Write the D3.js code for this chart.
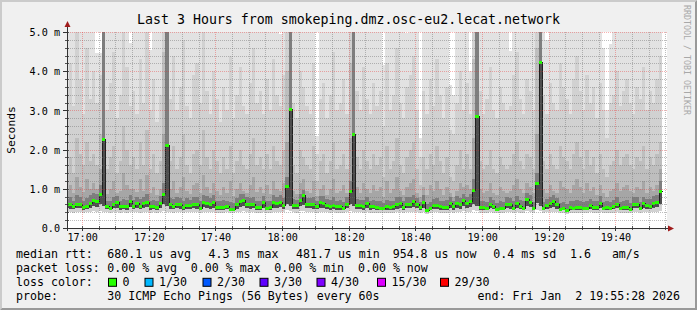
<!DOCTYPE html>
<html>
<head>
<meta charset="utf-8">
<script src="https://cdn.jsdelivr.net/npm/d3@7"></script>
<style>
  html, body { margin: 0; padding: 0; background: #fff; }
  svg text { font-family: "DejaVu Sans Mono", monospace; white-space: pre; }
</style>
</head>
<body>
<div id="chart"></div>
<script>
// median rtt per minute (ms)
var medianRtt = [
  0.60, 0.60, 0.56, 0.62, 0.62, 0.54, 0.57, 0.65, 0.71, 0.69,
  0.87, 2.26, 0.56, 0.52, 0.62, 0.66, 0.55, 0.55, 0.55, 0.68,
  0.57, 0.65, 0.57, 0.63, 0.66, 0.55, 0.55, 0.54, 0.65, 0.88,
  2.13, 0.60, 0.57, 0.61, 0.60, 0.54, 0.58, 0.58, 0.62, 0.60,
  0.52, 0.67, 0.65, 0.60, 0.66, 0.54, 0.54, 0.54, 0.56, 0.49,
  0.49, 0.60, 0.68, 0.71, 0.62, 0.60, 0.60, 0.53, 0.53, 0.66,
  0.51, 0.54, 0.66, 0.63, 0.67, 0.59, 1.08, 3.04, 0.59, 0.59,
  0.71, 0.83, 0.61, 0.61, 0.60, 0.56, 0.66, 0.64, 0.59, 0.56,
  0.59, 0.55, 0.55, 0.51, 0.61, 0.94, 2.39, 0.58, 0.58, 0.55,
  0.64, 0.55, 0.55, 0.54, 0.51, 0.50, 0.55, 0.53, 0.55, 0.60,
  0.63, 0.54, 0.62, 0.62, 0.68, 0.61, 0.54, 0.66, 0.47, 0.50,
  0.59, 0.59, 0.55, 0.53, 0.54, 0.64, 0.55, 0.65, 0.60, 0.71,
  0.64, 0.69, 0.98, 2.85, 0.54, 0.53, 0.50, 0.62, 0.57, 0.49,
  0.51, 0.51, 0.61, 0.61, 0.51, 0.65, 0.56, 0.52, 0.73, 0.67,
  0.50, 1.16, 4.24, 0.51, 0.58, 0.63, 0.68, 0.60, 0.49, 0.50,
  0.47, 0.54, 0.52, 0.54, 0.54, 0.50, 0.51, 0.58, 0.54, 0.54,
  0.65, 0.51, 0.54, 0.51, 0.56, 0.61, 0.51, 0.54, 0.54, 0.49,
  0.61, 0.62, 0.51, 0.63, 0.58, 0.57, 0.64, 0.67, 0.95
];

// lowest ping of each minute (ms)
var minPing = [
  0.41, 0.40, 0.39, 0.42, 0.41, 0.38, 0.40, 0.42, 0.43, 0.42,
  0.44, 0.42, 0.40, 0.38, 0.41, 0.42, 0.39, 0.40, 0.39, 0.42,
  0.40, 0.41, 0.39, 0.41, 0.42, 0.39, 0.40, 0.39, 0.41, 0.44,
  0.42, 0.40, 0.39, 0.41, 0.40, 0.38, 0.40, 0.40, 0.41, 0.40,
  0.38, 0.42, 0.41, 0.40, 0.41, 0.39, 0.39, 0.38, 0.40, 0.37,
  0.37, 0.40, 0.42, 0.43, 0.41, 0.40, 0.41, 0.38, 0.39, 0.41,
  0.38, 0.39, 0.41, 0.41, 0.42, 0.40, 0.45, 0.43, 0.40, 0.39,
  0.43, 0.44, 0.41, 0.40, 0.40, 0.39, 0.41, 0.41, 0.40, 0.39,
  0.40, 0.39, 0.39, 0.38, 0.41, 0.44, 0.42, 0.40, 0.40, 0.39,
  0.41, 0.39, 0.39, 0.39, 0.38, 0.37, 0.39, 0.38, 0.39, 0.40,
  0.41, 0.39, 0.41, 0.41, 0.42, 0.41, 0.39, 0.42, 0.36, 0.37,
  0.40, 0.40, 0.39, 0.38, 0.39, 0.41, 0.39, 0.41, 0.40, 0.43,
  0.41, 0.42, 0.45, 0.43, 0.39, 0.38, 0.37, 0.41, 0.39, 0.37,
  0.38, 0.38, 0.41, 0.40, 0.38, 0.41, 0.39, 0.38, 0.43, 0.42,
  0.37, 0.46, 0.43, 0.38, 0.40, 0.41, 0.42, 0.40, 0.37, 0.37,
  0.36, 0.39, 0.38, 0.39, 0.39, 0.37, 0.38, 0.40, 0.39, 0.39,
  0.41, 0.38, 0.39, 0.38, 0.39, 0.41, 0.38, 0.39, 0.39, 0.37,
  0.40, 0.41, 0.38, 0.41, 0.40, 0.40, 0.41, 0.42, 0.44
];

// lower edge of the dense part of the smoke (ms)
var lowPing = [
  0.50, 0.49, 0.48, 0.51, 0.50, 0.47, 0.48, 0.52, 0.55, 0.54,
  0.60, 0.55, 0.48, 0.46, 0.50, 0.52, 0.47, 0.48, 0.47, 0.53,
  0.48, 0.52, 0.48, 0.51, 0.53, 0.47, 0.48, 0.47, 0.52, 0.62,
  0.55, 0.49, 0.48, 0.50, 0.49, 0.47, 0.48, 0.49, 0.50, 0.49,
  0.46, 0.53, 0.52, 0.49, 0.52, 0.47, 0.47, 0.46, 0.48, 0.45,
  0.45, 0.49, 0.53, 0.55, 0.50, 0.49, 0.50, 0.46, 0.47, 0.52,
  0.46, 0.47, 0.52, 0.51, 0.53, 0.49, 0.62, 0.56, 0.49, 0.48,
  0.55, 0.58, 0.50, 0.50, 0.49, 0.48, 0.52, 0.51, 0.49, 0.47,
  0.49, 0.47, 0.47, 0.46, 0.50, 0.60, 0.55, 0.48, 0.49, 0.47,
  0.51, 0.47, 0.48, 0.47, 0.46, 0.45, 0.47, 0.46, 0.47, 0.49,
  0.51, 0.47, 0.50, 0.50, 0.53, 0.50, 0.47, 0.52, 0.44, 0.45,
  0.49, 0.48, 0.47, 0.46, 0.47, 0.51, 0.47, 0.52, 0.49, 0.55,
  0.51, 0.54, 0.62, 0.55, 0.47, 0.46, 0.45, 0.50, 0.48, 0.45,
  0.46, 0.46, 0.50, 0.49, 0.46, 0.52, 0.48, 0.46, 0.56, 0.53,
  0.45, 0.64, 0.56, 0.46, 0.48, 0.51, 0.53, 0.49, 0.45, 0.45,
  0.44, 0.47, 0.46, 0.47, 0.47, 0.45, 0.46, 0.48, 0.47, 0.47,
  0.52, 0.46, 0.47, 0.46, 0.48, 0.50, 0.46, 0.47, 0.47, 0.45,
  0.50, 0.50, 0.46, 0.51, 0.48, 0.48, 0.51, 0.53, 0.60
];

// highest ping of each minute (ms), graph is cut at 5 ms
var maxPing = [
  6.5, 7.0, 5.8, 6.2, 8.1, 5.6, 6.9, 7.4, 6.0, 4.46,
  4.46, 9.0, 6.3, 5.9, 7.1, 6.6, 5.7, 6.8, 7.5, 4.72,
  6.1, 5.8, 6.4, 7.0, 6.2, 4.53, 6.7, 5.9, 6.3, 8.0,
  9.0, 6.4, 7.2, 5.8, 6.1, 6.6, 7.3, 5.9, 6.2, 6.8,
  7.0, 6.3, 5.7, 6.5, 6.9, 6.0, 5.8, 7.1, 6.4, 6.2,
  5.9, 6.6, 7.0, 6.1, 5.8, 6.7, 6.3, 5.9, 7.2, 6.0,
  6.4, 5.7, 6.8, 6.2, 4.95, 6.5, 8.0, 9.0, 6.1, 5.9,
  6.6, 7.0, 6.2, 5.8, 6.4, 2.34, 6.9, 6.1, 5.7, 6.3,
  6.8, 6.0, 5.9, 6.5, 6.2, 8.0, 9.0, 6.4, 5.8, 6.7,
  6.1, 6.3, 7.0, 5.9, 6.2, 4.17, 6.6, 5.8, 6.4, 7.1,
  6.0, 5.7, 4.97, 6.5, 6.9, 6.2, 2.30, 6.1, 5.9, 6.6,
  6.3, 7.0, 6.0, 5.8, 6.4, 3.65, 3.40, 6.2, 6.7, 5.9,
  6.1, 4.0, 8.0, 9.0, 6.5, 5.9, 6.3, 6.8, 6.0, 5.7,
  6.6, 6.2, 5.9, 4.51, 6.4, 7.0, 6.1, 5.8, 6.5, 6.3,
  5.9, 8.0, 9.0, 6.2, 4.8, 6.6, 6.0, 5.8, 6.9, 6.3,
  6.1, 5.7, 6.4, 7.0, 6.2, 5.9, 6.6, 6.0, 6.3, 5.8,
  6.5, 4.6, 3.0, 4.7, 6.1, 6.8, 5.9, 6.2, 6.6, 6.0,
  5.8, 6.4, 6.1, 6.9, 5.7, 6.3, 6.0, 6.5, 7.0
];

// upper smoke levels, from outer to inner (ms)
var upperPing2 = [
  3.6, 4.2, 3.1, 5.4, 3.8, 2.9, 4.6, 3.3, 4.0, 3.2,
  3.9, 9.0, 3.0, 3.7, 4.5, 2.8, 3.4, 5.3, 4.1, 3.1,
  3.5, 2.9, 4.3, 3.2, 5.2, 3.0, 3.8, 2.7, 3.4, 6.0,
  9.0, 3.3, 4.4, 3.0, 3.6, 4.8, 3.1, 2.8, 3.9, 4.2,
  3.2, 5.1, 3.5, 2.9, 4.0, 3.3, 2.7, 3.6, 3.0, 4.4,
  2.8, 3.4, 4.1, 3.1, 2.9, 3.7, 4.6, 3.2, 3.5, 2.9,
  3.8, 3.0, 4.3, 3.4, 3.1, 3.9, 5.5, 9.0, 3.2, 2.8,
  4.0, 3.6, 3.1, 2.9, 4.2, 1.9, 3.3, 3.7, 2.8, 3.4,
  4.5, 3.0, 3.2, 3.8, 2.9, 5.5, 9.0, 3.5, 3.0, 4.1,
  3.3, 2.9, 3.7, 3.1, 3.5, 2.6, 4.2, 3.0, 3.4, 4.6,
  3.2, 2.8, 3.6, 3.9, 4.4, 3.0, 1.8, 3.5, 2.9, 3.8,
  3.1, 4.3, 3.4, 2.8, 3.6, 2.5, 2.4, 3.2, 4.0, 3.0,
  3.7, 2.9, 5.5, 9.0, 3.5, 2.9, 3.3, 4.1, 3.0, 2.8,
  3.6, 3.2, 3.0, 3.1, 3.9, 4.5, 3.3, 2.9, 3.8, 3.5,
  3.0, 5.8, 9.0, 3.4, 2.9, 3.7, 3.2, 3.0, 4.2, 3.6,
  3.3, 2.9, 3.8, 4.4, 3.5, 3.0, 3.9, 3.2, 3.6, 2.8,
  3.7, 3.0, 2.3, 3.2, 3.4, 4.0, 3.1, 3.5, 3.8, 3.2,
  2.9, 3.6, 3.3, 4.1, 3.0, 3.5, 3.2, 3.8, 4.4
];

var upperPing3 = [
  1.5, 1.8, 1.4, 2.3, 1.9, 1.6, 2.2, 1.7, 1.9, 1.6,
  2.4, 9.0, 1.5, 1.8, 2.1, 1.4, 1.7, 2.6, 2.0, 1.6,
  1.8, 1.5, 2.2, 1.6, 2.5, 1.5, 1.9, 1.4, 1.7, 4.5,
  9.0, 1.7, 2.1, 1.5, 1.8, 2.4, 1.6, 1.4, 1.9, 2.0,
  1.6, 2.5, 1.8, 1.5, 2.0, 1.7, 1.4, 1.8, 1.5, 2.1,
  1.4, 1.7, 2.0, 1.6, 1.5, 1.9, 2.3, 1.6, 1.8, 1.5,
  1.9, 1.5, 2.1, 1.7, 1.6, 2.0, 4.0, 9.0, 1.6, 1.4,
  2.0, 1.8, 1.6, 1.5, 2.1, 1.2, 1.7, 1.9, 1.4, 1.7,
  2.2, 1.5, 1.6, 1.9, 1.5, 4.2, 9.0, 1.8, 1.5, 2.0,
  1.7, 1.5, 1.9, 1.6, 1.8, 1.3, 2.1, 1.5, 1.7, 2.3,
  1.6, 1.4, 1.8, 2.0, 2.2, 1.5, 1.1, 1.8, 1.5, 1.9,
  1.6, 2.1, 1.7, 1.4, 1.8, 1.3, 1.2, 1.6, 2.0, 1.5,
  1.9, 1.5, 4.3, 9.0, 1.7, 1.5, 1.6, 2.0, 1.5, 1.4,
  1.8, 1.6, 1.5, 1.6, 1.9, 2.2, 1.7, 1.5, 1.9, 1.8,
  1.5, 4.6, 9.0, 1.7, 1.5, 1.9, 1.6, 1.5, 2.1, 1.8,
  1.7, 1.5, 1.9, 2.2, 1.8, 1.5, 2.0, 1.6, 1.8, 1.4,
  1.9, 1.5, 1.3, 1.6, 1.7, 2.0, 1.6, 1.8, 1.9, 1.6,
  1.5, 1.8, 1.7, 2.1, 1.5, 1.8, 1.6, 1.9, 2.2
];

var upperPing4 = [
  0.95, 1.10, 0.90, 1.30, 1.05, 0.92, 1.25, 1.00, 1.15, 1.00,
  1.50, 9.00, 0.88, 1.00, 1.20, 0.90, 0.95, 1.40, 1.10, 1.00,
  1.00, 0.92, 1.25, 0.95, 1.35, 0.90, 1.05, 0.85, 1.00, 2.40,
  9.00, 1.00, 1.20, 0.90, 1.05, 1.30, 0.95, 0.88, 1.10, 1.15,
  0.90, 1.35, 1.05, 0.90, 1.15, 0.95, 0.85, 1.05, 0.90, 1.20,
  0.82, 1.00, 1.15, 0.95, 0.90, 1.10, 1.30, 0.92, 1.05, 0.90,
  1.10, 0.88, 1.20, 1.00, 0.95, 1.15, 2.20, 9.00, 0.95, 0.88,
  1.15, 1.25, 0.95, 0.90, 1.20, 0.82, 1.00, 1.10, 0.85, 1.00,
  1.25, 0.90, 0.95, 1.10, 0.90, 2.30, 9.00, 1.05, 0.90, 1.15,
  1.00, 0.90, 1.10, 0.95, 1.05, 0.80, 1.20, 0.90, 1.00, 1.30,
  0.95, 0.85, 1.05, 1.15, 1.25, 0.90, 0.78, 1.05, 0.85, 1.10,
  0.95, 1.20, 1.00, 0.85, 1.05, 0.90, 0.80, 0.95, 1.15, 1.05,
  1.10, 1.00, 2.30, 9.00, 1.00, 0.90, 0.95, 1.15, 0.90, 0.85,
  1.05, 0.95, 0.90, 0.95, 1.10, 1.25, 1.00, 0.90, 1.15, 1.05,
  0.90, 2.40, 9.00, 1.00, 0.90, 1.10, 0.95, 0.90, 1.20, 1.05,
  1.00, 0.90, 1.10, 1.25, 1.05, 0.90, 1.15, 0.95, 1.05, 0.85,
  1.10, 0.90, 0.80, 0.95, 1.00, 1.15, 0.95, 1.05, 1.10, 0.95,
  0.90, 1.05, 1.00, 1.20, 0.90, 1.05, 0.95, 1.10, 1.50
];

var upperPing5 = [
  0.75, 0.78, 0.70, 0.85, 0.80, 0.68, 0.76, 0.84, 0.90, 0.86,
  1.10, 9.00, 0.70, 0.68, 0.80, 0.82, 0.70, 0.74, 0.72, 0.85,
  0.72, 0.80, 0.75, 0.79, 0.86, 0.70, 0.72, 0.68, 0.82, 1.15,
  9.00, 0.76, 0.75, 0.78, 0.77, 0.70, 0.76, 0.72, 0.80, 0.78,
  0.68, 0.85, 0.82, 0.76, 0.84, 0.70, 0.68, 0.72, 0.70, 0.66,
  0.64, 0.76, 0.86, 0.88, 0.80, 0.76, 0.80, 0.68, 0.70, 0.82,
  0.68, 0.70, 0.85, 0.79, 0.84, 0.76, 1.30, 9.00, 0.75, 0.72,
  0.88, 0.98, 0.77, 0.76, 0.80, 0.68, 0.82, 0.81, 0.74, 0.72,
  0.78, 0.70, 0.72, 0.66, 0.78, 1.20, 9.00, 0.74, 0.72, 0.72,
  0.80, 0.70, 0.72, 0.69, 0.68, 0.64, 0.72, 0.68, 0.70, 0.78,
  0.80, 0.68, 0.78, 0.80, 0.85, 0.76, 0.66, 0.83, 0.62, 0.66,
  0.75, 0.76, 0.70, 0.68, 0.72, 0.80, 0.68, 0.82, 0.77, 0.88,
  0.80, 0.86, 1.25, 9.00, 0.70, 0.68, 0.66, 0.78, 0.72, 0.64,
  0.68, 0.66, 0.78, 0.77, 0.68, 0.82, 0.72, 0.68, 0.90, 0.84,
  0.66, 1.40, 9.00, 0.67, 0.74, 0.80, 0.85, 0.76, 0.64, 0.66,
  0.62, 0.70, 0.68, 0.72, 0.70, 0.66, 0.68, 0.75, 0.70, 0.70,
  0.82, 0.67, 0.68, 0.66, 0.72, 0.78, 0.66, 0.70, 0.71, 0.64,
  0.78, 0.80, 0.66, 0.80, 0.74, 0.73, 0.81, 0.85, 1.20
];

var xTickLabels = ["17:00", "17:20", "17:40", "18:00", "18:20", "18:40", "19:00", "19:20", "19:40"];
var yTickLabels = ["0.0", "1.0 m", "2.0 m", "3.0 m", "4.0 m", "5.0 m"];

var medianStats = ["680.1 us avg", "4.3 ms max", "481.7 us min", "954.8 us now", "0.4 ms sd", "1.6   am/s"];
var lossStats   = ["0.00 % avg", "0.00 % max", "0.00 % min", "0.00 % now"];
var lossLabels  = ["0", "1/30", "2/30", "3/30", "4/30", "15/30", "29/30"];
var lossColors  = ["#26ff00", "#00b8ff", "#0059ff", "#5e00ff", "#7e00ff", "#dd00ff", "#ff0000"];

(function() {

  var buildColumns,
  drawFrame,
  drawSmoke,
  drawMedian,
  drawGrid,
  drawAxes,
  drawLegend,
  initModule,

  stateMap = {
    width    : 697,
    height   : 310,
    plot     : { left: 67, top: 32, width: 600, height: 196 },
    start    : new Date(2026, 0, 2, 16, 55, 28),
    end      : new Date(2026, 0, 2, 19, 55, 28),
    firstEnd : new Date(2026, 0, 2, 16, 56, 0),
    step     : 60000,
    columns  : null
  },

  d3Map = {
    svg   : null,
    plotG : null,
    x     : null,
    y     : null
  },

  // outer band first, lighter to darker (smokeping style)
  smokeBands = [
    { top: "max", bottom: "min",  color: "#e2e2e2" },
    { top: "u2",  bottom: "min",  color: "#d1d1d1" },
    { top: "u3",  bottom: "low",  color: "#bebebe" },
    { top: "u4",  bottom: "low",  color: "#a6a6a6" },
    { top: "u5",  bottom: "low",  color: "#7e7e7e" },
    { top: "med", bottom: "low",  color: "#4e4e4e" }
  ];

  buildColumns = function(){
    return medianRtt.map(function(m, i){
      var t1 = new Date(stateMap.firstEnd.getTime() + i * stateMap.step);
      return {
        t0  : new Date(t1.getTime() - stateMap.step),
        t1  : t1,
        med : m,
        min : minPing[i],
        low : lowPing[i],
        max : maxPing[i],
        u2  : upperPing2[i],
        u3  : upperPing3[i],
        u4  : upperPing4[i],
        u5  : upperPing5[i]
      };
    });
  };

  drawFrame = function(){
    var w = stateMap.width, h = stateMap.height, p = stateMap.plot;
    d3Map.svg.append("rect").attr("width", w).attr("height", h).attr("fill", "#f0f0f0");
    // 3d border
    d3Map.svg.append("path").attr("fill", "#cbcbcb")
      .attr("d", "M0,0H" + w + "L" + (w - 2) + ",2H2V" + (h - 2) + "L0," + h + "Z");
    d3Map.svg.append("path").attr("fill", "#999999")
      .attr("d", "M" + w + ",0V" + h + "H0L2," + (h - 2) + "H" + (w - 2) + "V2Z");
    d3Map.svg.append("rect")
      .attr("x", p.left).attr("y", p.top)
      .attr("width", p.width).attr("height", p.height)
      .attr("fill", "#ffffff");
    d3Map.svg.append("clipPath").attr("id", "plot-clip")
      .append("rect")
      .attr("x", p.left).attr("y", p.top)
      .attr("width", p.width).attr("height", p.height);
    d3Map.plotG = d3Map.svg.append("g").attr("clip-path", "url(#plot-clip)");
  };

  drawSmoke = function(cols){
    var last = cols[cols.length - 1];
    var pts = cols.map(function(c){ return { t: c.t0, c: c }; });
    pts.push({ t: last.t1, c: last });

    smokeBands.forEach(function(band){
      var area = d3.area()
        .curve(d3.curveStepAfter)
        .x(function(d){ return d3Map.x(d.t); })
        .y0(function(d){ return d3Map.y(d.c[band.bottom]); })
        .y1(function(d){ return d3Map.y(d.c[band.top]); });
      d3Map.plotG.append("path")
        .datum(pts)
        .attr("d", area)
        .attr("fill", band.color)
        .attr("shape-rendering", "crispEdges");
    });
  };

  drawMedian = function(cols){
    var last = cols[cols.length - 1];
    var pts = cols.map(function(c){ return { t: c.t0, v: c.med }; });
    pts.push({ t: last.t1, v: last.med });

    var line = d3.line()
      .curve(d3.curveStepAfter)
      .x(function(d){ return Math.round(d3Map.x(d.t)) + 0.5; })
      .y(function(d){ return Math.round(d3Map.y(d.v)) + 0.5; });

    d3Map.plotG.append("path")
      .datum(pts)
      .attr("d", line)
      .attr("fill", "none")
      .attr("stroke", "#202020")
      .attr("stroke-width", 1)
      .attr("shape-rendering", "crispEdges");

    // loss colour marks, all 0/30 here
    d3Map.plotG.selectAll(".loss-mark")
      .data(cols)
      .enter().append("rect")
        .attr("class", "loss-mark")
        .attr("x", function(d){ return d3Map.x(d.t0); })
        .attr("width", function(d){ return d3Map.x(d.t1) - d3Map.x(d.t0); })
        .attr("y", function(d){ return Math.round(d3Map.y(d.med)) - 1; })
        .attr("height", 3)
        .attr("fill", lossColors[0])
        .attr("shape-rendering", "crispEdges");
  };

  // dotted grid, lines put on pixel centres
  drawGrid = function(){
    var p = stateMap.plot,
      g = d3Map.svg.append("g"),
      allT = d3Map.x.ticks(d3.timeMinute.every(5)),
      majorT = allT.filter(function(t){ return t.getMinutes() % 20 === 0; }),
      minorT = allT.filter(function(t){ return t.getMinutes() % 20 !== 0; }),
      majorV = d3.range(1, 6),
      minorV = d3.range(1, 25).map(function(i){ return i * 0.2; })
        .filter(function(v){ return Math.abs(v - Math.round(v)) > 0.01; });

    var px = function(d){ return Math.round(d3Map.x(d)) + 0.5; };
    var py = function(d){ return Math.round(d3Map.y(d)) + 0.5; };

    var vLines = function(data, cls, color){
      g.selectAll("line." + cls).data(data).enter().append("line")
        .attr("class", cls)
        .attr("x1", px).attr("x2", px)
        .attr("y1", p.top).attr("y2", p.top + p.height)
        .attr("stroke", color).attr("stroke-width", 1)
        .attr("stroke-dasharray", "1 1");
    };
    var hLines = function(data, cls, color){
      g.selectAll("line." + cls).data(data).enter().append("line")
        .attr("class", cls)
        .attr("y1", py).attr("y2", py)
        .attr("x1", p.left + 1).attr("x2", p.left + p.width + 1)
        .attr("stroke", color).attr("stroke-width", 1)
        .attr("stroke-dasharray", "1 1");
    };

    vLines(minorT, "vminor", "rgba(110,110,110,0.45)");
    hLines(minorV, "hminor", "rgba(110,110,110,0.45)");
    vLines(majorT, "vmajor", "rgba(235,40,40,0.36)");
    hLines(majorV, "hmajor", "rgba(235,40,40,0.36)");

    // small ticks on the axes
    g.selectAll("line.xtick").data(allT).enter().append("line")
      .attr("class", "xtick")
      .attr("x1", px).attr("x2", px)
      .attr("y1", p.top + p.height - 2).attr("y2", p.top + p.height + 2)
      .attr("stroke", "#555");
    g.selectAll("line.ytick").data(minorV.concat(majorV)).enter().append("line")
      .attr("class", "ytick")
      .attr("y1", py).attr("y2", py)
      .attr("x1", p.left - 2).attr("x2", p.left + 2)
      .attr("stroke", "#555");
  };

  drawAxes = function(){
    var p = stateMap.plot,
      majorT = d3Map.x.ticks(d3.timeMinute.every(5))
        .filter(function(t){ return t.getMinutes() % 20 === 0; }),
      bottom = p.top + p.height;

    var xAxis = d3.axisBottom(d3Map.x)
      .tickValues(majorT)
      .tickFormat(function(d, i){ return xTickLabels[i]; })
      .tickSize(3)
      .tickPadding(3);
    var yAxis = d3.axisLeft(d3Map.y)
      .tickValues(d3.range(0, 6))
      .tickFormat(function(d, i){ return yTickLabels[i]; })
      .tickSize(4)
      .tickPadding(3);

    var gx = d3Map.svg.append("g")
      .attr("transform", "translate(0," + bottom + ")")
      .call(xAxis);
    var gy = d3Map.svg.append("g")
      .attr("transform", "translate(" + p.left + ",0)")
      .call(yAxis);

    [gx, gy].forEach(function(g){
      g.attr("font-family", "DejaVu Sans Mono").attr("font-size", 10.15).attr("color", "#333");
      g.select(".domain").remove();
      g.selectAll(".tick line").attr("shape-rendering", "crispEdges");
      g.selectAll(".tick text").attr("fill", "#000");
    });
    gy.selectAll(".tick text").attr("dy", "0.36em");

    // axis lines and arrows
    d3Map.svg.append("line")
      .attr("x1", p.left - 3).attr("x2", p.left + p.width + 2)
      .attr("y1", bottom + 0.5).attr("y2", bottom + 0.5)
      .attr("stroke", "#333").attr("shape-rendering", "crispEdges");
    d3Map.svg.append("line")
      .attr("x1", p.left + 0.5).attr("x2", p.left + 0.5)
      .attr("y1", bottom + 3).attr("y2", p.top - 6)
      .attr("stroke", "#333").attr("shape-rendering", "crispEdges");
    d3Map.svg.append("path")
      .attr("d", "M" + (p.left - 2.5) + "," + (p.top - 5) + "L" + (p.left + 3.5) + "," + (p.top - 5) +
        "L" + (p.left + 0.5) + "," + (p.top - 11) + "Z")
      .attr("fill", "#a01c1c");
    d3Map.svg.append("path")
      .attr("d", "M" + (p.left + p.width + 1) + "," + (bottom - 2.5) + "L" + (p.left + p.width + 1) + "," + (bottom + 3.5) +
        "L" + (p.left + p.width + 7) + "," + (bottom + 0.5) + "Z")
      .attr("fill", "#a01c1c");

    // unit label and watermark
    d3Map.svg.append("text")
      .attr("transform", "translate(15," + (p.top + p.height / 2) + ") rotate(-90)")
      .attr("text-anchor", "middle")
      .attr("font-size", 11.3)
      .text("Seconds");
    d3Map.svg.append("text")
      .attr("transform", "translate(684,5) rotate(90)")
      .attr("font-size", 8.3)
      .attr("fill", "#a8a8a8")
      .text("RRDTOOL / TOBI OETIKER");

    d3Map.svg.append("text")
      .attr("x", stateMap.width / 2)
      .attr("y", 24)
      .attr("text-anchor", "middle")
      .attr("font-size", 13.25)
      .text("Last 3 Hours from smokeping.dmz.osc-eu2.lecat.network");
  };

  drawLegend = function(){
    var g = d3Map.svg.append("g").attr("font-size", 11.6).attr("fill", "#000"),
      rowY = [258.3, 272.3, 286.3, 300.3],
      medX = [107.3, 208.6, 296, 392.7, 493.3, 570],
      lossX = [107.3, 190.8, 274.3, 358],
      boxX = [108.5, 145, 203, 260, 317, 377.5, 440.5];

    g.append("text").attr("x", 16).attr("y", rowY[0]).text("median rtt:");
    g.selectAll(".med").data(medianStats).enter().append("text")
      .attr("x", function(d, i){ return medX[i]; })
      .attr("y", rowY[0])
      .text(function(d){ return d; });

    g.append("text").attr("x", 16).attr("y", rowY[1]).text("packet loss:");
    g.selectAll(".loss").data(lossStats).enter().append("text")
      .attr("x", function(d, i){ return lossX[i]; })
      .attr("y", rowY[1])
      .text(function(d){ return d; });

    g.append("text").attr("x", 16).attr("y", rowY[2]).text("loss color:");
    var items = g.selectAll(".lc").data(lossLabels).enter().append("g");
    items.append("rect")
      .attr("x", function(d, i){ return boxX[i]; })
      .attr("y", rowY[2] - 8)
      .attr("width", 8).attr("height", 8)
      .attr("fill", function(d, i){ return lossColors[i]; })
      .attr("stroke", "#000").attr("stroke-width", 1);
    items.append("text")
      .attr("x", function(d, i){ return boxX[i] + 14; })
      .attr("y", rowY[2])
      .text(function(d){ return d; });

    g.append("text").attr("x", 16).attr("y", rowY[3]).text("probe:");
    g.append("text").attr("x", 107.3).attr("y", rowY[3]).text("30 ICMP Echo Pings (56 Bytes) every 60s");
    g.append("text").attr("x", 680).attr("y", rowY[3]).attr("text-anchor", "end")
      .text("end: Fri Jan  2 19:55:28 2026");
  };

  initModule = function(){
    var p = stateMap.plot;
    d3Map.svg = d3.select("#chart").append("svg")
      .attr("width", stateMap.width)
      .attr("height", stateMap.height);

    d3Map.x = d3.scaleTime()
      .domain([stateMap.start, stateMap.end])
      .range([p.left, p.left + p.width]);
    d3Map.y = d3.scaleLinear()
      .domain([0, 5])
      .range([p.top + p.height, p.top])
      .clamp(true);

    stateMap.columns = buildColumns();

    drawFrame();
    drawSmoke(stateMap.columns);
    drawMedian(stateMap.columns);
    drawGrid();
    drawAxes();
    drawLegend();
  };

  initModule();

}());
</script>
</body>
</html>
